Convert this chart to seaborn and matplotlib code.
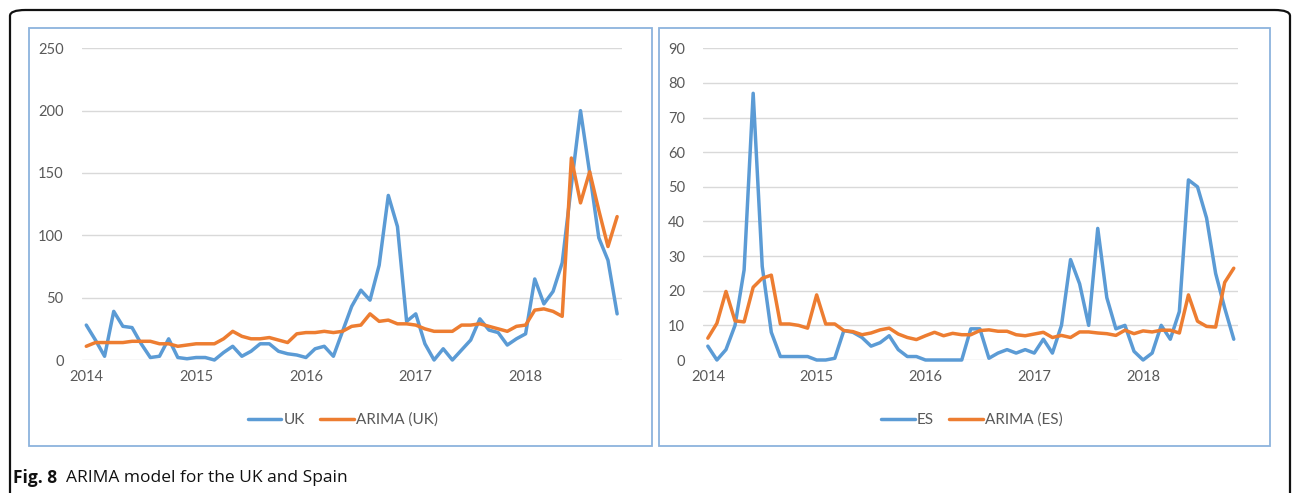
import numpy as np
import pandas as pd
import matplotlib
matplotlib.use("Agg")
import matplotlib.pyplot as plt
from matplotlib.patches import FancyBboxPatch, Rectangle
import seaborn as sns

# Monthly series, January 2014 to November 2018
year_labels = ["2014", "2015", "2016", "2017", "2018"]

uk = [28, 16, 3, 39, 27, 26, 13, 2, 3, 17, 2, 1, 2, 2, 0, 6, 11, 3, 7, 13,
      13, 7, 5, 4, 2, 9, 11, 3, 23, 43, 56, 48, 76, 132, 107, 31, 37, 13, 0, 9,
      0, 8, 16, 33, 24, 22, 12, 17, 21, 65, 45, 55, 78, 140, 200, 150, 98, 80, 37]

arima_uk = [11, 14, 14, 14, 14, 15, 15, 15, 13, 13, 11, 12, 13, 13, 13, 17, 23, 19, 17, 17,
            18, 16, 14, 21, 22, 22, 23, 22, 23, 27, 28, 37, 31, 32, 29, 29, 28, 25, 23, 23,
            23, 28, 28, 29, 27, 25, 23, 27, 28, 40, 41, 39, 35, 162, 126, 151, 120, 91, 115]

es = [4, 0, 3, 10, 26, 77, 27, 8, 1, 1, 1, 1, 0, 0, 0.5, 8.5, 8, 6.5, 4, 5,
      7, 3, 1, 1, 0, 0, 0, 0, 0, 9, 9, 0.5, 2, 3, 2, 3, 2, 6, 2, 10,
      29, 22, 10, 38, 18, 9, 10, 2.5, 0, 2, 10, 6, 14, 52, 50, 41, 25, 15, 6]

arima_es = [6.3, 10.6, 19.8, 11.3, 11, 21, 23.6, 24.5, 10.4, 10.4, 10, 9.2, 18.8, 10.4, 10.4, 8.5, 8.2, 7.3, 7.8, 8.7,
            9.2, 7.5, 6.5, 5.9, 7, 8, 7, 7.7, 7.3, 7.3, 8.5, 8.7, 8.3, 8.3, 7.3, 7, 7.5, 8, 6.5, 7.1,
            6.5, 8.1, 8.1, 7.8, 7.6, 7.1, 8.6, 7.6, 8.4, 8.1, 8.6, 8.6, 7.8, 18.8, 11.2, 9.7, 9.5, 22.4, 26.5]

month = np.arange(len(uk))
df = pd.DataFrame({"month": month, "UK": uk, "ARIMA (UK)": arima_uk,
                   "ES": es, "ARIMA (ES)": arima_es})

BLUE = "#5B9BD5"
ORANGE = "#ED7D31"
GRID = "#D9D9D9"
TEXT = "#595959"
FRAME = "#8CB3DD"

sns.set_theme(style="white")
plt.rcParams["font.family"] = ["Lato", "DejaVu Sans"]

W, H = 1292, 493
fig = plt.figure(figsize=(W / 100, H / 100), dpi=100)


def fx(px):
    return px / W


def fy(py):
    return 1 - py / H


# outer rounded frame (runs off the bottom edge)
outer = FancyBboxPatch((fx(10), fy(520)), fx(1280), (520 - 10) / H,
                       boxstyle="round,pad=0,rounding_size=0.012",
                       transform=fig.transFigure, fill=False,
                       edgecolor="#111111", linewidth=1.6, clip_on=False)
fig.patches.append(outer)

# chart frames
for x0, x1 in [(29, 652), (659, 1270)]:
    fig.patches.append(Rectangle((fx(x0), fy(446)), fx(x1 - x0), (446 - 28) / H,
                                 transform=fig.transFigure, fill=False,
                                 edgecolor=FRAME, linewidth=1.3))

panels = [
    dict(left=81.7, right=621.7, series=("UK", "ARIMA (UK)"), ymax=250, step=50, legend_x=343),
    dict(left=703.3, right=1238.3, series=("ES", "ARIMA (ES)"), ymax=90, step=10, legend_x=972),
]

for p in panels:
    ax = fig.add_axes([fx(p["left"]), fy(360), fx(p["right"] - p["left"]), (360 - 48.3) / H])
    for name, color in zip(p["series"], (BLUE, ORANGE)):
        sns.lineplot(data=df, x="month", y=name, ax=ax, color=color,
                     linewidth=2.5, label=name, clip_on=False)
    ax.set_xlim(-0.5, len(month) - 0.5)
    ax.set_ylim(0, p["ymax"])
    ax.set_yticks(np.arange(0, p["ymax"] + 1, p["step"]))
    ax.set_xticks([0, 12, 24, 36, 48])
    ax.set_xticklabels(year_labels)
    ax.grid(axis="y", color=GRID, linewidth=1.0)
    ax.set_axisbelow(True)
    for s in ax.spines.values():
        s.set_visible(False)
    ax.tick_params(axis="both", length=0, labelsize=10.5, labelcolor=TEXT)
    ax.tick_params(axis="y", pad=13)
    ax.tick_params(axis="x", pad=7)
    ax.set_xlabel("")
    ax.set_ylabel("")
    ax.set_facecolor("none")
    ax.legend(loc="center", bbox_to_anchor=(fx(p["legend_x"]), fy(420)),
              bbox_transform=fig.transFigure, ncol=2, frameon=False,
              fontsize=11, labelcolor=TEXT, handlelength=2.2,
              handletextpad=0.15, columnspacing=1.0)

fig.text(fx(13), fy(478), "Fig. 8", fontsize=12.5, fontweight="bold",
         family=["Open Sans", "DejaVu Sans"], va="center", ha="left", color="#111111")
fig.text(fx(66), fy(478), "ARIMA model for the UK and Spain", fontsize=12.5,
         family=["Open Sans", "DejaVu Sans"], va="center", ha="left", color="#111111")

fig.savefig("out.png", dpi=100)
